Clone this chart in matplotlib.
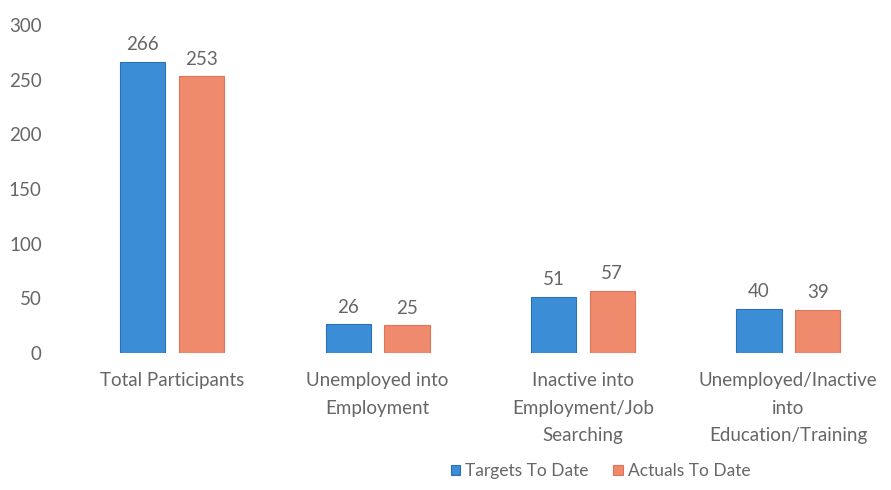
import matplotlib
matplotlib.use("Agg")
import matplotlib.pyplot as plt
import numpy as np

categories = ["Total Participants", "Unemployed into\nEmployment",
              "Inactive into\nEmployment/Job\nSearching",
              "Unemployed/Inactive\ninto\nEducation/Training"]
targets = [266, 26, 51, 40]
actuals = [253, 25, 57, 39]
series_names = ["Targets To Date", "Actuals To Date"]
yticks = [0, 50, 100, 150, 200, 250, 300]

plt.rcParams['font.family'] = ['Lato', 'DejaVu Sans']
txt = '#666666'
blue = '#3b8ed6'
orange = '#f08a6c'
fs = 13.5

fig = plt.figure(figsize=(8.91, 4.90), dpi=100)
ax = fig.add_axes([0.078, 0.28, 0.922, 0.669])
x = np.arange(len(categories))
w = 0.22
off = 0.143
b1 = ax.bar(x - off, targets, w, color=blue, edgecolor='#2a70b8', linewidth=0.8, label=series_names[0])
b2 = ax.bar(x + off, actuals, w, color=orange, edgecolor='#e07458', linewidth=0.8, label=series_names[1])
for bars, vals in ((b1, targets), (b2, actuals)):
    for r, v in zip(bars, vals):
        ax.text(r.get_x() + r.get_width() / 2, v + 8, str(v), ha='center', va='bottom',
                fontsize=fs, color=txt)
ax.set_xlim(-0.5, 3.5)
ax.set_ylim(0, 300)
ax.set_yticks(yticks)
ax.set_xticks(x)
ax.set_xticklabels(categories, fontsize=fs, color=txt, linespacing=1.75)
ax.tick_params(axis='y', labelsize=fs, labelcolor=txt, length=0, pad=20)
ax.tick_params(axis='x', length=0, pad=14)
for s in ax.spines.values():
    s.set_visible(False)
fig.legend(handles=[b1, b2], labels=series_names, loc='center', bbox_to_anchor=(0.674, 0.038),
           ncol=2, frameon=False, fontsize=12.5, labelcolor=txt, handlelength=0.55,
           handleheight=0.55, handletextpad=0.3, columnspacing=1.4)
fig.savefig('out.png', dpi=100)
